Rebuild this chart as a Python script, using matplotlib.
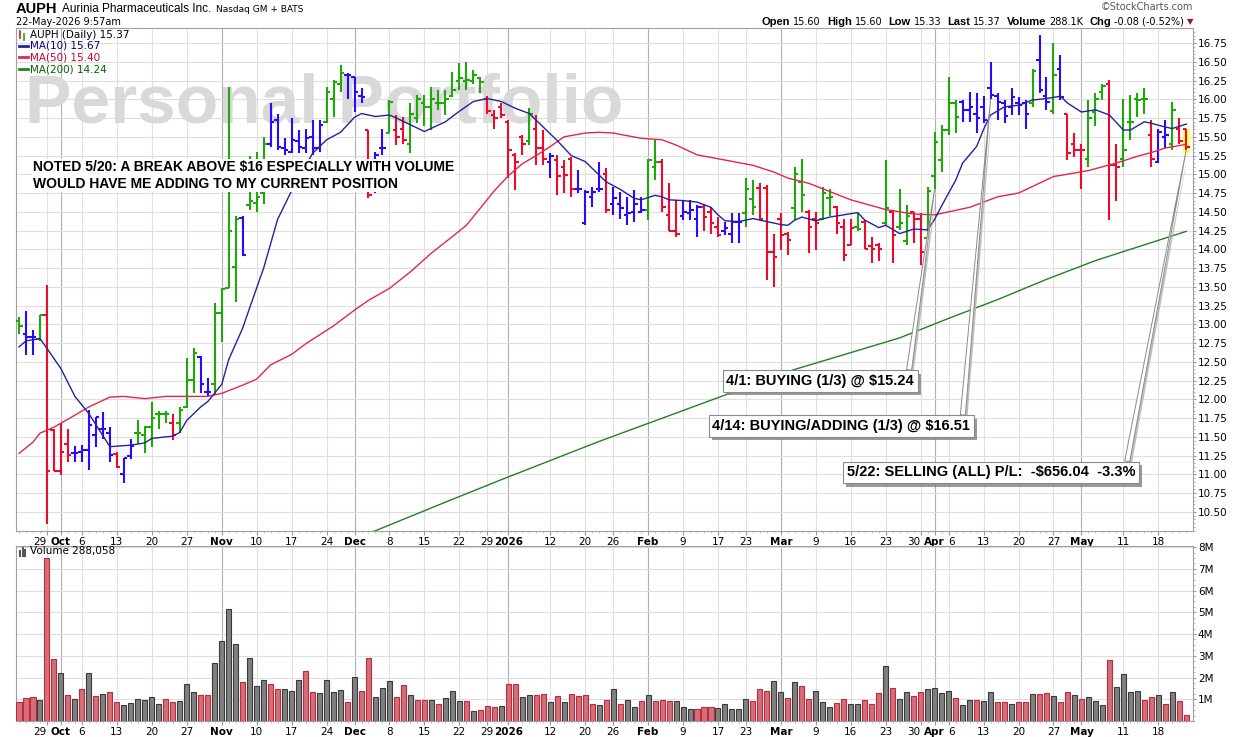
import matplotlib
matplotlib.use("Agg")
import matplotlib.pyplot as plt
import matplotlib.patheffects as pe
from matplotlib.lines import Line2D
from matplotlib.patches import Rectangle
from matplotlib.ticker import MultipleLocator, FormatStrFormatter
import numpy as np
import pandas as pd

plt.rcParams['font.family'] = ['DejaVu Sans']

# ---- data ----
holidays = ["2025-11-27", "2025-12-25", "2026-01-01", "2026-01-19", "2026-02-16", "2026-04-03"]
dates = pd.bdate_range("2025-09-23", "2026-05-22", freq="C", holidays=holidays)

opens = [13.05, 12.87, 12.83, 12.80, 13.13, 11.59, 11.05, 11.41, 11.28, 11.30,
         11.33, 11.52, 11.60, 11.55, 11.27, 11.00, 11.24, 11.55, 11.52, 11.63,
         11.81, 11.81, 11.69, 11.68, 11.90, 12.26, 12.57, 12.10, 12.20, 13.15,
         13.49, 13.77, 14.42, 14.59, 14.62, 14.75, 15.40, 15.72, 15.35, 15.30,
         15.45, 15.35, 15.50, 15.35, 15.70, 16.00, 16.20, 16.33, 16.30, 16.05,
         15.59, 14.80, 15.35, 15.55, 15.59, 15.60, 15.40, 15.75, 15.95, 15.90,
         15.95, 15.95, 16.05, 16.25, 16.25, 16.25, 16.28, 16.00, 15.79, 15.90,
         15.70, 15.26, 15.50, 15.45, 15.60, 15.35, 15.17, 15.19, 15.10, 15.21,
         14.80, 14.35, 14.70, 14.80, 15.00, 14.60, 14.60, 14.46, 14.50, 14.50,
         14.52, 15.10, 15.17, 14.46, 14.24, 14.45, 14.48, 14.40, 14.57, 14.50,
         14.30, 14.25, 14.20, 14.37, 14.48, 14.67, 14.82, 14.82, 13.97, 14.40,
         14.20, 14.55, 14.90, 14.50, 14.40, 14.40, 14.68, 14.57, 14.30, 14.06,
         14.30, 14.37, 14.05, 14.06, 14.35, 14.50, 14.30, 14.11, 14.50, 14.40,
         14.15, 14.98, 15.19, 15.59, 15.95, 15.97, 15.86, 15.81, 15.90, 16.15,
         16.05, 15.95, 15.90, 15.95, 15.95, 15.95, 16.52, 16.05, 15.85, 16.41,
         15.81, 15.40, 15.32, 15.20, 15.83, 16.10, 16.20, 15.12, 15.20, 15.70,
         16.00, 16.00, 15.53, 15.17, 15.50, 15.40, 15.61, 15.60]
highs = [13.10, 13.18, 12.93, 13.13, 13.52, 11.61, 11.68, 11.61, 11.38, 11.39,
         11.86, 11.77, 11.83, 11.63, 11.30, 11.22, 11.47, 11.72, 11.65, 11.96,
         11.85, 11.85, 11.81, 11.90, 12.55, 12.68, 12.58, 12.28, 13.28, 13.49,
         16.17, 14.44, 14.44, 15.24, 15.30, 15.50, 15.95, 15.80, 15.48, 15.75,
         15.59, 15.61, 15.72, 15.72, 16.17, 16.26, 16.46, 16.35, 16.30, 16.15,
         15.59, 15.30, 15.61, 15.99, 15.79, 15.77, 15.95, 16.06, 16.06, 16.17,
         16.12, 16.12, 16.37, 16.48, 16.50, 16.39, 16.30, 16.05, 15.86, 15.95,
         15.72, 15.28, 15.52, 15.88, 15.79, 15.59, 15.28, 15.26, 15.19, 15.23,
         15.06, 14.79, 14.83, 15.17, 15.08, 14.83, 14.77, 14.70, 14.79, 14.70,
         15.21, 15.46, 15.21, 14.88, 14.66, 14.66, 14.66, 14.59, 14.61, 14.57,
         14.43, 14.37, 14.48, 14.48, 14.95, 14.92, 14.88, 14.86, 14.21, 14.48,
         14.23, 15.10, 15.21, 14.53, 14.50, 14.83, 14.80, 14.58, 14.41, 14.41,
         14.48, 14.39, 14.16, 14.08, 15.19, 14.53, 14.81, 14.59, 14.50, 14.48,
         14.83, 15.57, 15.66, 16.30, 15.99, 15.99, 16.10, 16.09, 16.05, 16.50,
         16.08, 15.99, 16.15, 16.03, 15.99, 16.41, 16.86, 16.30, 16.75, 16.59,
         15.81, 15.55, 15.41, 15.99, 16.08, 16.21, 16.26, 15.41, 16.01, 16.06,
         16.08, 16.15, 15.72, 15.61, 15.72, 15.97, 15.75, 15.60]
lows = [12.87, 12.59, 12.59, 12.78, 10.34, 11.04, 10.99, 11.16, 11.16, 11.16,
        11.06, 11.37, 11.47, 11.17, 11.08, 10.88, 11.20, 11.41, 11.28, 11.37,
        11.61, 11.68, 11.46, 11.55, 11.88, 12.08, 12.09, 12.04, 12.06, 12.77,
        13.49, 13.30, 13.91, 14.52, 14.50, 14.60, 15.37, 15.33, 15.26, 15.28,
        15.28, 15.28, 15.26, 15.30, 15.68, 15.77, 16.10, 16.00, 15.83, 15.95,
        14.68, 14.75, 15.26, 15.55, 15.39, 15.41, 15.28, 15.68, 15.64, 15.59,
        15.86, 15.79, 16.03, 16.12, 16.12, 16.21, 16.08, 15.80, 15.61, 15.75,
        14.95, 14.79, 15.26, 15.39, 15.12, 15.12, 14.95, 14.72, 14.75, 14.70,
        14.75, 14.32, 14.57, 14.77, 14.48, 14.46, 14.41, 14.32, 14.37, 14.48,
        14.39, 14.92, 14.50, 14.24, 14.17, 14.39, 14.39, 14.17, 14.24, 14.21,
        14.17, 14.19, 14.08, 14.08, 14.30, 14.46, 14.39, 13.59, 13.50, 13.99,
        13.92, 14.39, 14.50, 13.95, 13.99, 14.39, 14.44, 14.20, 13.84, 14.06,
        14.24, 14.01, 13.82, 13.85, 14.32, 13.82, 14.26, 14.06, 14.08, 13.79,
        14.15, 14.81, 15.03, 15.52, 15.55, 15.70, 15.70, 15.55, 15.68, 16.00,
        15.72, 15.68, 15.79, 15.79, 15.61, 15.90, 16.08, 15.86, 15.81, 15.99,
        15.19, 15.23, 14.81, 15.10, 15.64, 15.99, 14.39, 14.65, 15.10, 15.46,
        15.77, 15.81, 15.10, 15.15, 15.35, 15.32, 15.41, 15.33]
closes = [12.98, 12.83, 12.83, 13.13, 11.05, 11.04, 11.30, 11.26, 11.29, 11.32,
          11.66, 11.76, 11.61, 11.26, 11.10, 11.22, 11.38, 11.55, 11.63, 11.75,
          11.81, 11.81, 11.52, 11.86, 12.26, 12.62, 12.21, 12.10, 13.15, 13.47,
          14.24, 14.40, 13.92, 14.65, 14.70, 15.40, 15.70, 15.37, 15.32, 15.46,
          15.37, 15.48, 15.35, 15.66, 16.10, 16.23, 16.35, 16.32, 16.10, 16.03,
          14.72, 15.26, 15.35, 15.97, 15.50, 15.46, 15.81, 16.01, 15.90, 16.00,
          15.95, 16.00, 16.12, 16.28, 16.26, 16.32, 16.23, 15.85, 15.75, 15.79,
          15.32, 15.17, 15.41, 15.80, 15.35, 15.20, 15.25, 14.98, 14.99, 14.80,
          14.81, 14.77, 14.76, 14.81, 14.52, 14.68, 14.55, 14.48, 14.61, 14.52,
          15.19, 15.17, 14.57, 14.24, 14.20, 14.50, 14.52, 14.57, 14.43, 14.35,
          14.19, 14.28, 14.37, 14.37, 14.80, 14.57, 14.40, 13.97, 13.90, 14.19,
          14.12, 15.01, 14.72, 14.30, 14.35, 14.75, 14.70, 14.35, 13.92, 14.28,
          14.27, 14.01, 14.01, 14.01, 14.55, 14.19, 14.35, 14.44, 14.40, 13.97,
          14.78, 15.43, 15.59, 15.95, 15.77, 15.86, 15.90, 15.75, 15.72, 16.06,
          15.97, 15.78, 16.03, 15.92, 15.81, 16.38, 16.12, 15.97, 16.32, 16.03,
          15.28, 15.32, 15.32, 15.75, 16.00, 16.18, 15.12, 15.10, 15.32, 15.70,
          15.99, 16.01, 15.20, 15.57, 15.53, 15.86, 15.45, 15.37]
# g = up bar, r = down bar, b = mixed bar (as coloured on the chart)
bar_dir = ("gbbgrrrrbb" "bbbbrbbggg" "ggrgggbbgg" "ggbgggbbbb" "bbbbgggbbb"
           "rbbgrrgggg" "gggggggrrr" "rrrgrrbrrr" "bbbbrbbbbb" "ggrrrbbbrr"
           "rbbbggrrrr" "rggrrggrrr" "grrrgrggrr" "gggggbbbbb" "bbbbbgbbgb"
           "rrrgggrrgg" "ggrbbgrr")

volume_m = [0.86, 1.05, 1.09, 0.95, 7.50, 2.85, 2.20, 1.18, 1.00, 1.46,
            2.20, 1.15, 1.23, 1.32, 0.86, 0.72, 0.82, 1.00, 0.95, 1.09,
            0.77, 1.00, 0.86, 0.91, 1.69, 1.32, 1.18, 1.18, 2.66, 3.68,
            5.15, 3.54, 1.78, 2.89, 1.60, 1.88, 1.69, 1.46, 1.46, 1.37,
            1.88, 2.29, 1.32, 1.28, 1.88, 1.32, 1.42, 0.86, 2.02, 1.37,
            2.89, 1.09, 1.51, 1.83, 1.09, 1.65, 1.18, 0.95, 0.95, 0.95,
            0.77, 1.05, 1.37, 0.91, 0.91, 0.45, 0.49, 0.68, 0.63, 0.68,
            1.69, 1.69, 1.09, 1.18, 1.18, 1.23, 0.86, 1.14, 0.86, 1.23,
            1.14, 1.18, 0.77, 0.72, 0.95, 1.46, 0.77, 0.95, 0.63, 0.91,
            1.18, 0.91, 0.95, 0.91, 0.91, 0.63, 0.54, 0.54, 0.63, 0.63,
            0.58, 0.77, 0.54, 0.54, 1.00, 0.91, 1.46, 1.37, 1.83, 1.32,
            1.05, 1.78, 1.60, 1.00, 1.37, 0.86, 0.63, 0.82, 1.00, 0.77,
            0.77, 0.95, 0.77, 1.28, 2.52, 1.51, 1.00, 1.32, 1.14, 1.32,
            1.46, 1.51, 1.28, 1.37, 1.05, 0.72, 0.95, 0.95, 0.91, 1.32,
            0.86, 0.86, 0.77, 0.86, 0.86, 1.23, 1.23, 1.28, 1.14, 0.86,
            1.32, 1.18, 1.00, 1.09, 0.91, 0.72, 2.80, 1.55, 2.15, 1.32,
            1.37, 0.95, 1.09, 1.18, 0.77, 1.32, 0.91, 0.288]
# r = down day volume, k = up day volume
vol_dir = ("rrrkrrkrkr" "krkrrkkkkk" "krrkkkrrkk" "kkrkkkrrkk" "krrkkkkrkr"
           "rkkkrrkrrk" "rkkkrkrrrk" "rrkkrrkrkr" "rrrkrkrkkr" "krrrkkkrrr"
           "kkkkkrrrkk" "rkrrkkkrrk" "krrrkrkkrr" "kkkkrkkrkk" "rrkrrkrrkr"
           "rkrkkkrkkk" "krrkrkrr")

ma10_bar = [0, 1, 3, 4, 6, 8, 10, 13, 16, 18, 19, 22, 23, 24, 26, 27, 29, 30, 32, 33,
            35, 37, 39, 42, 44, 46, 48, 49, 51, 53, 54, 56, 58, 61, 63, 65, 67, 69, 71, 73,
            75, 77, 79, 81, 83, 84, 86, 88, 89, 91, 92, 93, 95, 97, 99, 100, 101, 103, 105, 107,
            109, 110, 111, 112, 114, 116, 118, 120, 121, 123, 124, 126, 128, 130, 131, 132, 134, 135, 137, 138,
            139, 141, 143, 145, 147, 149, 150, 152, 154, 156, 158, 159, 161, 162, 164, 165, 167]
ma10_val = [12.70, 12.78, 12.81, 12.68, 12.41, 12.04, 11.81, 11.37, 11.39, 11.42,
            11.48, 11.51, 11.56, 11.72, 11.90, 11.97, 12.20, 12.53, 12.95, 13.22,
            13.75, 14.40, 14.78, 15.28, 15.46, 15.56, 15.76, 15.81, 15.77, 15.79,
            15.75, 15.66, 15.57, 15.70, 15.84, 15.97, 16.01, 15.97, 15.88, 15.81,
            15.63, 15.45, 15.25, 15.17, 14.99, 14.90, 14.80, 14.68, 14.66, 14.72,
            14.70, 14.66, 14.65, 14.63, 14.56, 14.46, 14.38, 14.37, 14.41, 14.37,
            14.33, 14.32, 14.39, 14.43, 14.38, 14.43, 14.46, 14.49, 14.39, 14.29,
            14.32, 14.21, 14.27, 14.26, 14.40, 14.58, 14.92, 15.15, 15.37, 15.60,
            15.79, 15.90, 15.92, 15.99, 16.01, 16.04, 15.95, 15.83, 15.86, 15.79,
            15.59, 15.59, 15.70, 15.68, 15.63, 15.61, 15.67]
ma50_bar = [0, 2, 3, 5, 8, 10, 13, 15, 18, 21, 24, 27, 29, 32, 34, 36, 39, 41, 43, 45,
            48, 50, 53, 56, 59, 62, 64, 66, 68, 70, 72, 74, 76, 78, 81, 83, 85, 89, 92, 94,
            97, 101, 105, 108, 110, 113, 116, 119, 124, 126, 128, 131, 133, 136, 138, 140, 143, 148, 153, 157,
            160, 162, 164, 167]
ma50_val = [11.28, 11.43, 11.55, 11.63, 11.79, 11.90, 12.03, 12.04, 12.01, 12.04,
            12.04, 12.04, 12.08, 12.19, 12.27, 12.46, 12.60, 12.74, 12.86, 12.98,
            13.19, 13.32, 13.48, 13.70, 13.95, 14.17, 14.32, 14.55, 14.78, 14.98,
            15.14, 15.25, 15.37, 15.50, 15.55, 15.56, 15.55, 15.48, 15.46, 15.39,
            15.26, 15.19, 15.12, 15.03, 14.95, 14.88, 14.77, 14.66, 14.53, 14.50,
            14.47, 14.46, 14.50, 14.56, 14.63, 14.70, 14.75, 14.97, 15.05, 15.15,
            15.24, 15.29, 15.35, 15.40]
ma200_bar = [48, 51, 61, 69, 83, 97, 111, 126, 133, 140, 147, 154, 161, 167]
ma200_val = [10.15, 10.25, 10.63, 10.93, 11.44, 11.92, 12.40, 12.82, 13.08, 13.33,
             13.60, 13.85, 14.06, 14.24]

trade_notes = [("4/1: BUYING (1/3) @ \\$15.24", "2026-04-01"),
               ("4/14: BUYING/ADDING (1/3) @ \\$16.51", "2026-04-14"),
               ("5/22: SELLING (ALL) P/L:  -\\$656.04  -3.3%", "2026-05-22")]

# ---- layout (pixels) ----
W, H = 1240, 737
L, R = 16, 1193
P_TOP, P_BOT = 28.3, 530.7
V_TOP, V_BOT = 546, 721

GREEN, RED, BLUE = '#1fa80a', '#ee0a2a', '#2a0aff'
bar_colors = {'g': GREEN, 'r': RED, 'b': BLUE}

fig = plt.figure(figsize=(W / 100, H / 100), dpi=100)
ax = fig.add_axes([L / W, 1 - P_BOT / H, (R - L) / W, (P_BOT - P_TOP) / H])
axv = fig.add_axes([L / W, 1 - V_BOT / H, (R - L) / W, (V_BOT - V_TOP) / H])
renderer = fig.canvas.get_renderer()


def ptext(px, py, s, **kw):
    return fig.text(px / W, 1 - py / H, s, **kw)


def ax_xy(px, py):
    return (px - L) / (R - L), (P_BOT - py) / (P_BOT - P_TOP)


n = len(closes)
x = np.arange(n)

# x labels: week starts and month starts
pos, labs, is_month = [], [], []
last_month = -10
for i in range(1, n):
    d, p = dates[i], dates[i - 1]
    if d.month != p.month:
        pos.append(i)
        labs.append(str(d.year) if d.month == 1 else d.strftime('%b'))
        is_month.append(True)
        last_month = i
    elif d.weekday() < p.weekday() and i - last_month > 1:
        pos.append(i)
        labs.append(str(d.day))
        is_month.append(False)

for a in (ax, axv):
    a.set_xlim(-0.43, n - 0.04)
    for p, m in zip(pos, is_month):
        a.axvline(p, color='#b0b0b0' if m else '#e0e0e0', lw=0.8, zorder=0.5)
    a.set_xticks(pos)
    a.set_xticklabels(labs)
    for k, (t, m) in enumerate(zip(a.get_xticklabels(), is_month)):
        if m:
            t.set_fontweight('bold')
        # crowded labels next to a month label hug their neighbours
        if not m and k + 1 < len(pos) and is_month[k + 1] and pos[k + 1] - pos[k] <= 2:
            t.set_ha('right')
        if not m and k > 0 and is_month[k - 1] and pos[k] - pos[k - 1] <= 2:
            t.set_ha('left')
    a.set_xticks(x, minor=True)
    a.tick_params(axis='x', which='major', length=3, color='#999999', labelsize=7.5, pad=1.5)
    a.tick_params(axis='x', which='minor', length=1.5, color='#bbbbbb')
    a.yaxis.tick_right()
    a.tick_params(axis='y', which='major', length=2, color='#999999', labelsize=7.5, pad=1.5)
    a.tick_params(axis='y', which='minor', length=1.5, color='#aaaaaa')
    a.grid(axis='y', color='#dedede', lw=0.8, zorder=0.5)
    a.set_axisbelow(True)
    for s in a.spines.values():
        s.set_color('#a0a0a0')
        s.set_linewidth(0.8)

# price panel
ax.set_ylim(10.25, 16.946)
ax.set_yticks(np.arange(10.5, 16.76, 0.25))
ax.yaxis.set_major_formatter(FormatStrFormatter('%.2f'))
ax.yaxis.set_minor_locator(MultipleLocator(0.05))

ax.text(*ax_xy(25, 105), "Personal Portfolio", transform=ax.transAxes, fontsize=50,
        fontweight='bold', family='Liberation Sans', color='#d9d9d9', ha='left',
        va='center', zorder=1)

ax.add_patch(Rectangle((n - 1 - 0.5, lows[-1] - 0.04), 1.0, highs[-1] - lows[-1] + 0.05,
                       facecolor='#ffff60', edgecolor='none', zorder=2))

cols = [bar_colors[c] for c in bar_dir]
ax.vlines(x, lows, highs, colors=cols, lw=1.5, zorder=3)
ax.hlines(opens, x - 0.5, x, colors=cols, lw=1.5, zorder=3)
ax.hlines(closes, x, x + 0.5, colors=cols, lw=1.5, zorder=3)

ax.plot(ma200_bar, ma200_val, color='#1f841f', lw=1.0, zorder=4)
ax.plot(ma50_bar, ma50_val, color='#e0284a', lw=1.0, zorder=4)
ax.plot(ma10_bar, ma10_val, color='#23239a', lw=1.0, zorder=4)

ax.text(*ax_xy(33, 175.5),
        "NOTED 5/20: A BREAK ABOVE \\$16 ESPECIALLY WITH VOLUME\nWOULD HAVE ME ADDING TO MY CURRENT POSITION",
        transform=ax.transAxes, fontsize=10, fontweight='bold', family='Liberation Sans',
        ha='left', va='center', linespacing=1.25, zorder=6,
        bbox=dict(boxstyle='square,pad=0.1', fc='white', ec='none'))

box_at = [(101.2, 12.246), (99.2, 11.646), (118.4, 11.026)]
box_shadow = [pe.SimplePatchShadow(offset=(2.5, -2.5), shadow_rgbFace='#808080', alpha=0.8), pe.Normal()]
arrow_shadow = [pe.SimplePatchShadow(offset=(1.5, -1.5), shadow_rgbFace='#b0b0b0', alpha=0.8), pe.Normal()]
for (label, day), (bx, by) in zip(trade_notes, box_at):
    i = dates.get_loc(pd.Timestamp(day))
    an = ax.annotate(label, xy=(i, lows[i]), xytext=(bx, by), textcoords='data',
                     fontsize=10.5, fontweight='bold', family='Liberation Sans',
                     ha='left', va='center', zorder=7,
                     bbox=dict(boxstyle='square,pad=0.25', fc='white', ec='#8a8a8a', lw=0.8),
                     arrowprops=dict(arrowstyle='wedge,tail_width=0.35,shrink_factor=0.5',
                                     fc='white', ec='#8a8a8a', lw=0.7, relpos=(0.97, 1.0),
                                     shrinkA=0, shrinkB=0))
    an.get_bbox_patch().set_path_effects(box_shadow)
    an.arrow_patch.set_path_effects(arrow_shadow)

# volume panel
vcols = ['#d2707a' if c == 'r' else '#808080' for c in vol_dir]
vedge = ['#c0283c' if c == 'r' else '#3a3a3a' for c in vol_dir]
axv.bar(x, volume_m, width=0.72, color=vcols, edgecolor=vedge, lw=0.8, zorder=3)
axv.set_ylim(0, 8.05)
axv.set_yticks(range(1, 9))
axv.set_yticklabels([f"{v}M" for v in range(1, 9)])
axv.yaxis.set_minor_locator(MultipleLocator(0.25))

# header, left side placed piece after piece
xl = 16
for txt, kw, py, gap in [("AUPH", dict(fontsize=10.5, fontweight='bold', family='Liberation Sans'), 9, 4),
                         ("Aurinia Pharmaceuticals Inc.", dict(fontsize=8.5, family='Liberation Sans'), 9, 5),
                         ("Nasdaq GM + BATS", dict(fontsize=6.5), 10, 0)]:
    t = ptext(xl, py, txt, va='center', **kw)
    xl += t.get_window_extent(renderer).width + gap
ptext(16, 22, "22-May-2026 9:57am", fontsize=7, va='center')
ptext(R, 7, "\u00a9StockCharts.com", fontsize=7, color='#555555', ha='right', va='center')

# header, right side placed piece before piece
pieces = [("Open", True), ("15.60", False), ("High", True), ("15.60", False),
          ("Low", True), ("15.33", False), ("Last", True), ("15.37", False),
          ("Volume", True), ("288.1K", False), ("Chg", True), ("-0.08 (-0.52%)", False)]
xr = 1184
for txt, bold in reversed(pieces):
    if bold:
        t = ptext(xr, 22, txt, fontsize=8, fontweight='bold', family='Liberation Sans', ha='right', va='center')
        xr -= t.get_window_extent(renderer).width + 6
    else:
        t = ptext(xr, 22, txt, fontsize=7, ha='right', va='center')
        xr -= t.get_window_extent(renderer).width + 3
ptext(1190, 22, "\u25bc", fontsize=6, color='#8b1a3a', ha='center', va='center')

# legend in the price panel
fig.add_artist(Line2D([20 / W, 20 / W], [1 - 31 / H, 1 - 38 / H], color=RED, lw=1.2))
fig.add_artist(Line2D([24 / W, 24 / W], [1 - 34 / H, 1 - 40 / H], color=GREEN, lw=1.2))
ptext(30, 35, "AUPH (Daily) 15.37", fontsize=7.5, va='center')
legend_rows = [("MA(10) 15.67", '#23239a', '#000080', 46),
               ("MA(50) 15.40", '#e0284a', '#cc0033', 57),
               ("MA(200) 14.24", '#1f841f', '#006400', 69)]
for txt, lc, tc, py in legend_rows:
    fig.add_artist(Line2D([19 / W, 28 / W], [1 - py / H, 1 - py / H], color=lc, lw=2))
    ptext(30, py, txt, fontsize=7.5, color=tc, va='center')

for k, hgt in enumerate([5, 8, 6]):
    fig.add_artist(Line2D([(20 + 2.5 * k) / W] * 2, [1 - 556 / H, 1 - (556 - hgt) / H], color='#555555', lw=1.5))
ptext(30, 551, "Volume 288,058", fontsize=7.5, va='center')

fig.savefig("out.png", dpi=100, facecolor='white')
